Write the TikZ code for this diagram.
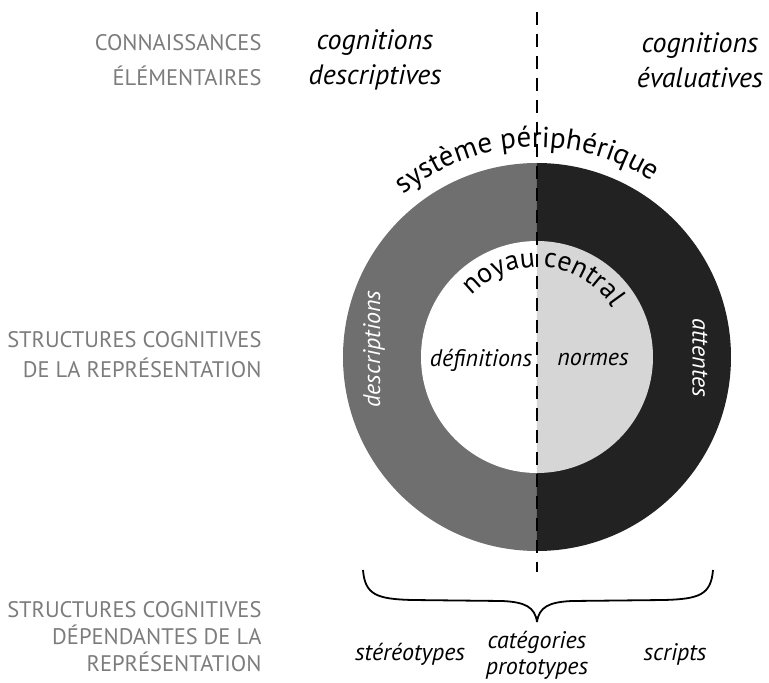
\documentclass[tikz,border=0pt]{standalone}
\usepackage{fontspec}
\setmainfont{PT Sans}
\usetikzlibrary{positioning, decorations.text}
\definecolor{peri}{HTML}{6F6F6F}
\definecolor{fonce}{HTML}{222222}
\definecolor{clair}{HTML}{D6D6D6}
\definecolor{titre}{HTML}{7C7C7C}

\begin{document}
\begin{tikzpicture}[x=1pt, y=1pt, node distance=0.5cm and 0.1cm,
		rubrique/.style={text=titre, align=right, anchor=east, font=\fontsize{22.5}{30}\selectfont},
		cognition/.style={align=center, font=\fontsize{28}{35}\selectfont\itshape},
		contenu/.style={font=\fontsize{24}{26}\selectfont\itshape}]
	\useasboundingbox (-537,-326) rectangle (232,357);
		% les deux couronnes
		\fill[peri] (0,194) arc[start angle=90, end angle=270, radius=194pt] -- cycle;
		\fill[fonce] (0,194) arc[start angle=90, end angle=-90, radius=194pt] -- cycle;
		\fill[white] (0,116) arc[start angle=90, end angle=270, radius=116pt] -- cycle;
		\fill[clair] (0,116) arc[start angle=90, end angle=-90, radius=116pt] -- cycle;
		\coordinate (haut) at (0,345);
		\coordinate (bas) at (0,-215);
		\draw[line width=2pt, dash pattern=on 13pt off 9pt] (haut) -- (bas);
		\path[decorate, decoration={text along path, text align=center,
			text={|\fontsize{29}{29}\selectfont|système périphérique}}]
			(143:210pt) arc[start angle=143, end angle=43, radius=210pt];
		\path[decorate, decoration={text along path, text align=center,
			text={|\fontsize{28}{28}\selectfont|noyau central}}]
			(165:90pt) arc[start angle=165, end angle=5, radius=90pt];
		\node[contenu, text=white, rotate=90] (desc) at (-163,8) {descriptions};
		\node[contenu, text=white, rotate=-90] (att) at (163,-1) {attentes};
		\node[contenu] (def) at (-56,-3) {définitions};
		\node[contenu] (norm) at (56,-3) {normes};
		% en haut
		\node[rubrique, font=\fontsize{22.5}{35}\selectfont] (conn) at (-272,297) {CONNAISSANCES\\ÉLÉMENTAIRES};
		\node[cognition] (cdesc) at (-162,297) {cognitions\\descriptives};
		\node[cognition] (ceval) at (163,297) {cognitions\\évaluatives};
		\node[rubrique] (struct) at (-272,2) {STRUCTURES COGNITIVES\\DE LA REPRÉSENTATION};
		% en bas
		\coordinate (acg) at (-174,-213);
		\coordinate (acd) at (176,-213);
		\coordinate (pointe) at (0,-265);
		\draw[line width=1.8pt] (acg) .. controls (-172,-238) and (-160,-242) .. (-125,-243)
			-- (-35,-244) .. controls (-12,-245) and (-2,-250) .. (pointe);
		\draw[line width=1.8pt] (acd) .. controls (174,-238) and (162,-242) .. (127,-243)
			-- (35,-244) .. controls (12,-245) and (2,-250) .. (pointe);
		\node[contenu, align=center] (cat) at (0,-298) {catégories\\prototypes};
		\node[contenu] (ster) at (-127,-297) {stéréotypes};
		\node[contenu] (scr) at (138,-297) {scripts};
		\node[rubrique, font=\fontsize{22.5}{27}\selectfont] (dep) at (-272,-280) {STRUCTURES COGNITIVES\\DÉPENDANTES DE LA\\REPRÉSENTATION};
\end{tikzpicture}
\end{document}
